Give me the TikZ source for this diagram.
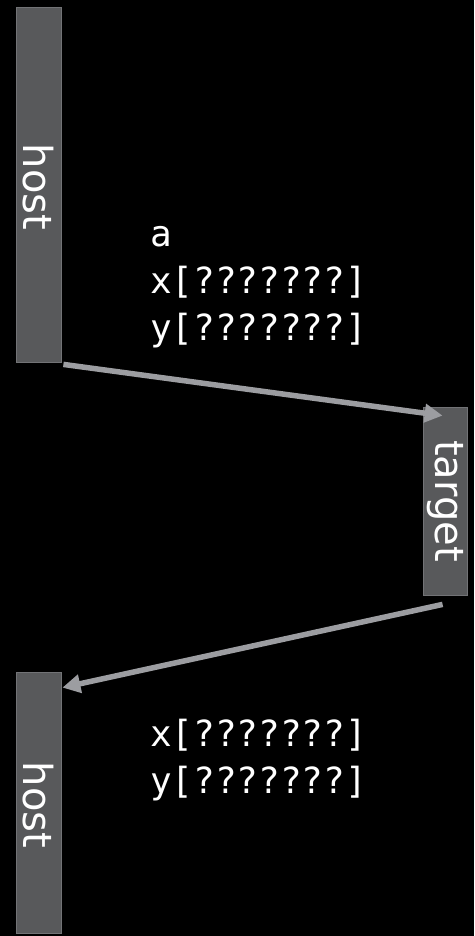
\documentclass[tikz,border=0pt]{standalone}
\usepackage{fontspec}
\setmainfont{DejaVu Sans}
\newfontfamily\monof{DejaVu Sans Mono}
\usetikzlibrary{arrows.meta,calc}
\definecolor{boxfill}{HTML}{58595B}
\definecolor{boxline}{HTML}{727376}
\definecolor{arrowc}{HTML}{9C9DA1}
\begin{document}
\begin{tikzpicture}[x=1pt,y=-1pt,
  bar/.style={draw=boxline, line width=0.8pt, fill=boxfill, inner sep=0pt, minimum width=45pt},
  barlabel/.style={text=white, rotate=-90, inner sep=0pt, font=\fontsize{40}{48}\selectfont},
  datatext/.style={text=white, anchor=base west, inner sep=0pt, font=\monof\fontsize{36}{47}\selectfont},
  flow/.style={draw=arrowc, line width=5.5pt, -{Triangle[length=18pt,width=18pt]}}]
\useasboundingbox (0,0) rectangle (474,936);
\fill[black] (0,0) rectangle (474,936);
% boxes
\node[bar, minimum height=355pt] (host1) at (38.5,184.5) {};
\node[bar, minimum width=44pt, minimum height=188pt] (target) at (445,501) {};
\node[bar, minimum height=261pt] (host2) at (38.5,802.5) {};
% labels
\node[barlabel] (host1lbl) at (38.5,187) {host};
\node[barlabel] (targetlbl) at (445,501) {target};
\node[barlabel] (host2lbl) at (38.5,805) {host};
% data texts
\node[datatext] (ta) at (150,246) {a};
\node[datatext] (tx1) at (150,293) {x[???????]};
\node[datatext] (ty1) at (150,340) {y[???????]};
\node[datatext] (tx2) at (150,746) {x[???????]};
\node[datatext] (ty2) at (150,793) {y[???????]};
% connectors
\coordinate (s1) at ($(host1.south east)+(2,2)$);
\coordinate (e1) at ($(target.north west)+(20,9)$);
\coordinate (s2) at ($(target.south west)+(20,9)$);
\coordinate (e2) at ($(host2.north east)+(1,16)$);
\draw[flow] (s1) -- (e1);
\draw[flow] (s2) -- (e2);
\end{tikzpicture}
\end{document}
